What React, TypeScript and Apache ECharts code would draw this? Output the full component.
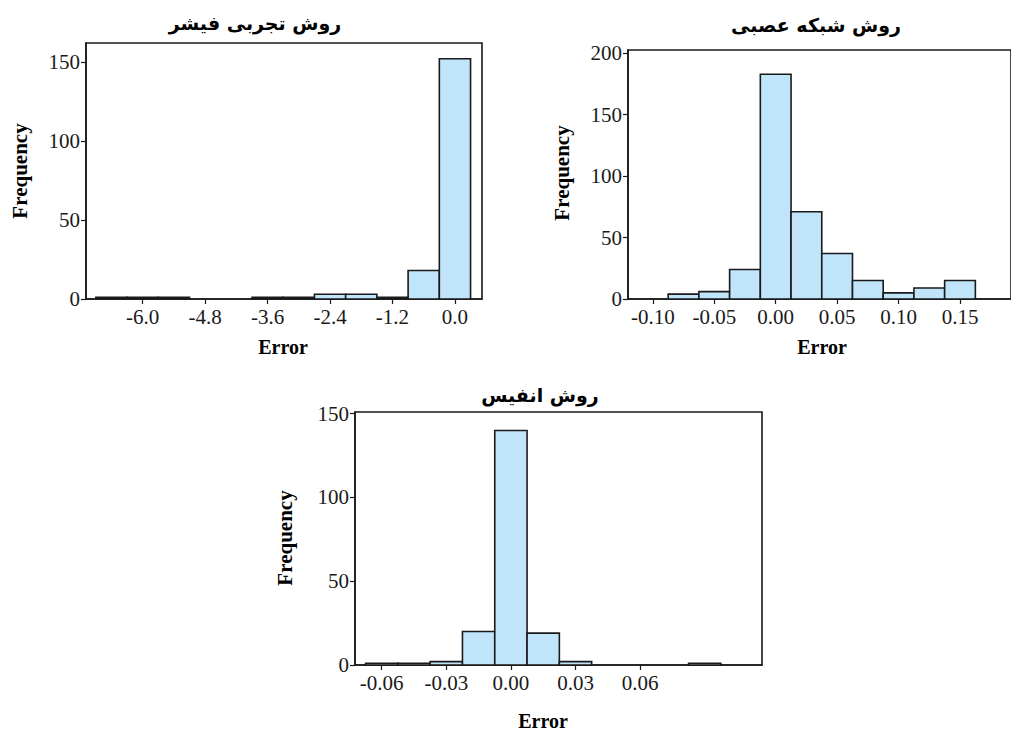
import React, { useEffect, useRef } from "react";
import * as echarts from "echarts";

// Chart 1: روش تجربی فیشر
const fisherCenters = [-6.6, -6.0, -5.4, -4.8, -4.2, -3.6, -3.0, -2.4, -1.8, -1.2, -0.6, 0.0];
const fisherCounts = [1, 1, 1, 0, 0, 1, 1, 3, 3, 1, 18, 152];
const fisherBinWidth = 0.6;
const fisherXTicks = [-6.0, -4.8, -3.6, -2.4, -1.2, 0.0];
const fisherYTicks = [0, 50, 100, 150];

// Chart 2: روش شبکه عصبی
const nnCenters = [-0.075, -0.05, -0.025, 0.0, 0.025, 0.05, 0.075, 0.1, 0.125, 0.15];
const nnCounts = [4, 6, 24, 183, 71, 37, 15, 5, 9, 15];
const nnBinWidth = 0.025;
const nnXTicks = [-0.1, -0.05, 0.0, 0.05, 0.1, 0.15];
const nnYTicks = [0, 50, 100, 150, 200];

// Chart 3: روش انفیس
const anfisCenters = [-0.06, -0.045, -0.03, -0.015, 0.0, 0.015, 0.03, 0.045, 0.06, 0.075, 0.09];
const anfisCounts = [1, 1, 2, 20, 140, 19, 2, 0, 0, 0, 1];
const anfisBinWidth = 0.015;
const anfisXTicks = [-0.06, -0.03, 0.0, 0.03, 0.06];
const anfisYTicks = [0, 50, 100, 150];

const titles = ["روش تجربی فیشر", "روش شبکه عصبی", "روش انفیس"];
const xName = "Error";
const yName = "Frequency";

const FILL = "#c0e4fa";
const INK = "#1a1a1a";
const SERIF = "'Liberation Serif', 'Times New Roman', serif";
const ARABIC = "'DejaVu Sans', sans-serif";

function histSeries(centers: number[], counts: number[], w: number, idx: number) {
  return {
    type: "custom",
    xAxisIndex: idx,
    yAxisIndex: idx,
    encode: { x: 0, y: 1 },
    data: centers.map((c, i) => [c, counts[i]]),
    renderItem: (params: any, api: any) => {
      const c = api.value(0);
      const v = api.value(1);
      if (!v) return null;
      const p0 = api.coord([c - w / 2, v]);
      const p1 = api.coord([c + w / 2, 0]);
      return {
        type: "rect",
        shape: { x: p0[0], y: p0[1], width: p1[0] - p0[0], height: p1[1] - p0[1] },
        style: { fill: FILL, stroke: INK, lineWidth: 1.6 },
      };
    },
  };
}

function xAxis(idx: number, min: number, max: number, ticks: number[], digits: number) {
  return {
    type: "value",
    gridIndex: idx,
    min,
    max,
    axisLine: { show: true, onZero: false, lineStyle: { color: INK, width: 1.6 } },
    axisTick: { show: true, length: 5, customValues: ticks, lineStyle: { color: INK, width: 1.2 } },
    axisLabel: {
      show: true,
      customValues: ticks,
      formatter: (v: number) => v.toFixed(digits),
      fontFamily: SERIF,
      fontSize: 21,
      color: INK,
      margin: 7,
    },
    splitLine: { show: false },
  };
}

function yAxis(idx: number, max: number, ticks: number[]) {
  return {
    type: "value",
    gridIndex: idx,
    min: 0,
    max,
    axisLine: { show: true, onZero: false, lineStyle: { color: INK, width: 1.6 } },
    axisTick: { show: true, length: 5, customValues: ticks, lineStyle: { color: INK, width: 1.2 } },
    axisLabel: {
      show: true,
      customValues: ticks,
      formatter: (v: number) => String(Math.round(v)),
      fontFamily: SERIF,
      fontSize: 21,
      color: INK,
      margin: 6,
    },
    splitLine: { show: false },
  };
}

function titleText(text: string, x: number, y: number) {
  return {
    type: "text",
    x,
    y,
    style: {
      text,
      fill: "#000",
      font: `bold 19px ${ARABIC}`,
      align: "center",
      verticalAlign: "middle",
    },
  };
}

function xNameText(x: number, y: number) {
  return {
    type: "text",
    x,
    y,
    style: { text: xName, fill: "#000", font: `bold 20px ${SERIF}`, align: "center", verticalAlign: "middle" },
  };
}

function yNameText(x: number, y: number) {
  return {
    type: "text",
    x,
    y,
    rotation: Math.PI / 2,
    style: { text: yName, fill: "#000", font: `bold 21px ${SERIF}`, align: "center", verticalAlign: "middle" },
  };
}

export default function App() {
  const ref = useRef<HTMLDivElement>(null);

  useEffect(() => {
    if (!ref.current) return;
    const chart = echarts.init(ref.current, undefined, { renderer: "svg" });
    const gridStyle = { show: true, borderColor: INK, borderWidth: 1.6, backgroundColor: "transparent" };
    chart.setOption({
      animation: false,
      backgroundColor: "#fff",
      grid: [
        { left: 86, top: 43, width: 396, height: 256, ...gridStyle },
        { left: 628, top: 50, width: 386, height: 249, ...gridStyle },
        { left: 355, top: 412, width: 407, height: 253, ...gridStyle },
      ],
      xAxis: [
        xAxis(0, -7.09, 0.52, fisherXTicks, 1),
        xAxis(1, -0.1202, 0.1915, nnXTicks, 2),
        xAxis(2, -0.0724, 0.1166, anfisXTicks, 2),
      ],
      yAxis: [yAxis(0, 162, fisherYTicks), yAxis(1, 202.7, nnYTicks), yAxis(2, 151, anfisYTicks)],
      series: [
        histSeries(fisherCenters, fisherCounts, fisherBinWidth, 0),
        histSeries(nnCenters, nnCounts, nnBinWidth, 1),
        histSeries(anfisCenters, anfisCounts, anfisBinWidth, 2),
      ],
      graphic: [
        titleText(titles[0], 255, 23),
        titleText(titles[1], 816, 25),
        titleText(titles[2], 540, 395),
        yNameText(20, 171),
        yNameText(562, 173),
        yNameText(285, 538),
        xNameText(283, 347),
        xNameText(822, 347),
        xNameText(543, 721),
      ],
    });
    return () => chart.dispose();
  }, []);

  return (
    <div
      ref={ref}
      style={{ position: "fixed", left: 0, top: 0, width: 1011, height: 731, background: "#fff" }}
    />
  );
}
